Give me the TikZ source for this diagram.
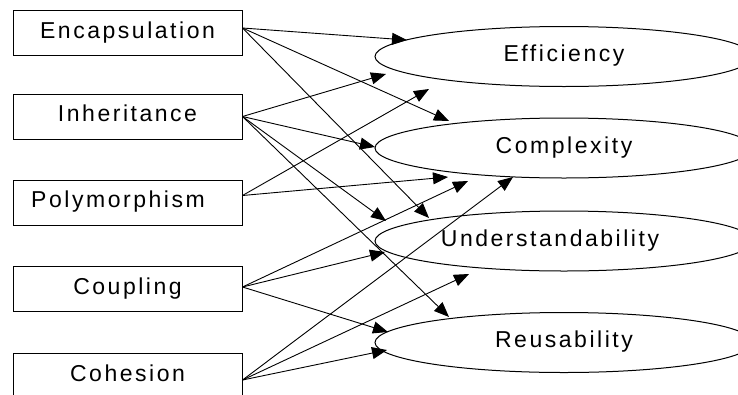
\documentclass[tikz,border=0pt]{standalone}
\usepackage{fontspec}
\setmainfont{Liberation Sans}[LetterSpace=11]
\usetikzlibrary{shapes.geometric,arrows.meta}

\begin{document}
\begin{tikzpicture}[x=1pt,y=-1pt,
  label font/.style={font=\fontsize{23}{27}\selectfont, text height=16pt, text depth=6pt},
  factor/.style={draw, line width=1pt, minimum width=229pt, minimum height=45pt,
                 inner sep=0pt, label font},
  quality/.style={draw, ellipse, line width=1pt, minimum width=378pt,
                  minimum height=60pt, inner sep=0pt, label font},
  link/.style={line width=0.9pt, -{Triangle[length=15pt,width=12pt]}}]

  \useasboundingbox (0,0) rectangle (738,394);
  \clip (0,0) rectangle (738,394);

  % design factors
  \node[factor] (enc)  at (127.5,33)    {Encapsulation};
  \node[factor] (inh)  at (127.5,116.5) {Inheritance};
  \node[factor] (poly) at (127.5,202.5) {\kern-19pt Polymorphism};
  \node[factor] (coup) at (127.5,289)   {Coupling};
  \node[factor] (coh)  at (127.5,376)   {Cohesion};

  % quality attributes
  \node[quality] (eff)  at (564,56.5)  {Efficiency};
  \node[quality] (comp) at (564,148)   {Complexity};
  \node[quality] (und)  at (564,241)   {\kern-28pt Understandability};
  \node[quality] (reu)  at (564,342.5) {Reusability};

  % points where the links leave the boxes
  \coordinate (enc-out)  at ([yshift=5pt]enc.east);
  \coordinate (inh-out)  at (inh.east);
  \coordinate (poly-out) at ([yshift=7pt]poly.east);
  \coordinate (coup-out) at ([yshift=2pt]coup.east);
  \coordinate (coh-out)  at ([yshift=-4pt]coh.east);

  % arrow tips near the ellipses
  \coordinate (eff-a)  at (407,40);
  \coordinate (eff-b)  at (386,74);
  \coordinate (eff-c)  at (429,89);
  \coordinate (comp-a) at (449,121);
  \coordinate (comp-b) at (375,147);
  \coordinate (comp-c) at (448,177);
  \coordinate (comp-d) at (468,181);
  \coordinate (comp-e) at (513,177);
  \coordinate (und-a)  at (429,218);
  \coordinate (und-b)  at (386,221);
  \coordinate (und-c)  at (385,252);
  \coordinate (und-d)  at (469,274);
  \coordinate (reu-a)  at (449,317);
  \coordinate (reu-b)  at (388,332);
  \coordinate (reu-c)  at (387,350);

  % Encapsulation
  \draw[link] (enc-out) -- (eff-a);
  \draw[link] (enc-out) -- (comp-a);
  \draw[link] (enc-out) -- (und-a);
  % Inheritance
  \draw[link] (inh-out) -- (eff-b);
  \draw[link] (inh-out) -- (comp-b);
  \draw[link] (inh-out) -- (und-b);
  \draw[link] (inh-out) -- (reu-a);
  % Polymorphism
  \draw[link] (poly-out) -- (eff-c);
  \draw[link] (poly-out) -- (comp-c);
  % Coupling
  \draw[link] (coup-out) -- (comp-d);
  \draw[link] (coup-out) -- (und-c);
  \draw[link] (coup-out) -- (reu-b);
  % Cohesion
  \draw[link] (coh-out) -- (comp-e);
  \draw[link] (coh-out) -- (und-d);
  \draw[link] (coh-out) -- (reu-c);
\end{tikzpicture}
\end{document}
